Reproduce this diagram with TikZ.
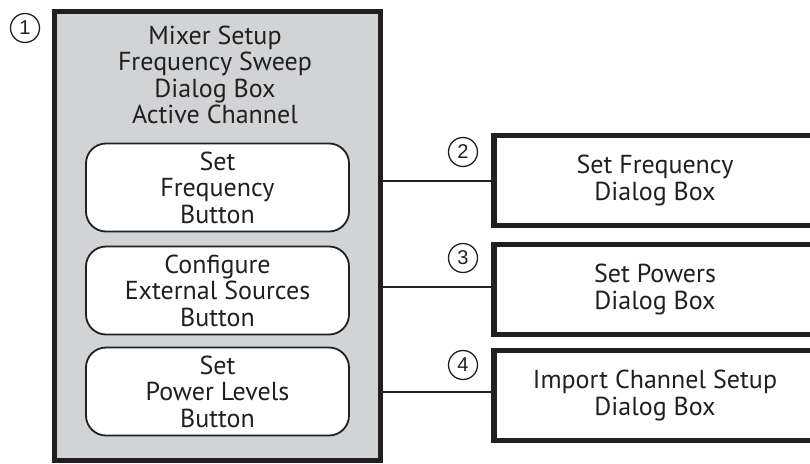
\documentclass[tikz,border=0pt]{standalone}
\usepackage{fontspec}
\setmainfont{PT Sans}
\newfontfamily\digitfont{Liberation Sans}
\definecolor{ink}{HTML}{231F20}
\definecolor{panelgrey}{HTML}{D1D3D4}
\begin{document}
\begin{tikzpicture}[x=1pt,y=-1pt,
  txt/.style={font=\fontsize{26}{26.5}\selectfont, align=center, inner sep=0pt, text=ink},
  panelbox/.style={draw=ink, fill=panelgrey, line width=5pt, inner sep=0pt},
  btn/.style={txt, draw=ink, fill=white, line width=1.8pt, rounded corners=20pt, minimum width=263pt, minimum height=88pt},
  dlg/.style={txt, draw=ink, fill=white, line width=5.5pt, minimum width=322pt, minimum height=90pt},
  callout/.style={circle, draw=ink, text=ink, line width=1.3pt, minimum size=29pt, inner sep=0pt, font=\digitfont\fontsize{20}{20}\selectfont},
  conn/.style={draw=ink, line width=2pt}]
\useasboundingbox (0,0) rectangle (810,463);
\node[panelbox, minimum width=326pt, minimum height=449.5pt] (panel) at (217.5,235.75) {};
\node[txt] (head) at (215,75) {Mixer Setup\\Frequency Sweep\\Dialog Box\\Active Channel};
\node[btn] (b1) at (217.5,187.5) {Set\\Frequency\\Button};
\node[btn] (b2) at (217.5,290.5) {Configure\\External Sources\\Button};
\node[btn] (b3) at (217.5,391.5) {Set\\Power Levels\\Button};
\node[dlg] (d1) at (655,180.5) {Set Frequency\\Dialog Box};
\node[dlg] (d2) at (655,289.5) {Set Powers\\Dialog Box};
\node[dlg] (d3) at (655,395.5) {Import Channel Setup\\Dialog Box};
\coordinate (c1) at (d1.west);
\coordinate (c2) at ([yshift=3pt]d2.west);
\coordinate (c3) at ([yshift=3.5pt]d3.west);
\draw[conn] (panel.east |- c1) -- (c1);
\draw[conn] (panel.east |- c2) -- (c2);
\draw[conn] (panel.east |- c3) -- (c3);
\node[callout] (n1) at (25,28) {1};
\node[callout] (n2) at (463,152) {2};
\node[callout] (n3) at (463,258) {3};
\node[callout] (n4) at (463,365) {4};
\end{tikzpicture}
\end{document}
